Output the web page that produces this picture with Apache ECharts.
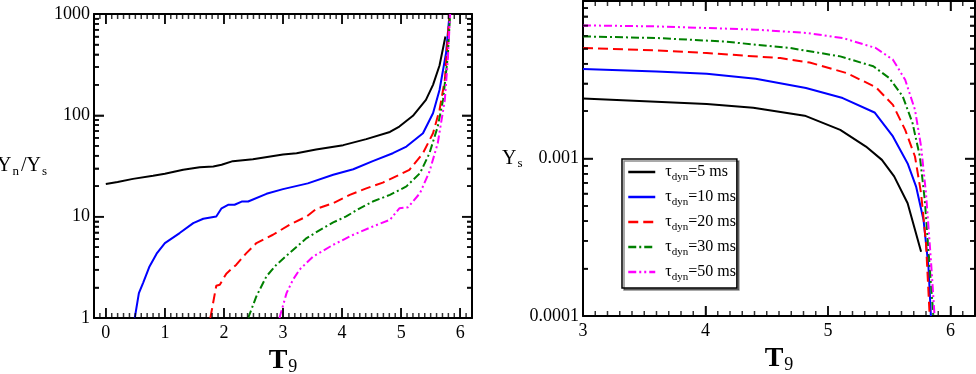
<!DOCTYPE html>
<html>
<head>
<meta charset="utf-8">
<script src="https://cdn.jsdelivr.net/npm/echarts@6/dist/echarts.min.js"></script>
<style>
html, body { margin: 0; padding: 0; background: #fff; }
#chart { width: 976px; height: 374px; }
</style>
</head>
<body>
<div id="chart"></div>
<script>
// tau_dyn values (ms) and their line styles
const tauValues = ['5', '10', '20', '30', '50']
const lineColors = ['#000000', '#0000ff', '#ff0000', '#008000', '#ff00ff']
const lineDashes = ['solid', 'solid', [10, 5], [8, 3, 2, 3], [8, 3, 2, 3, 2, 3]]

// left panel: Yn/Ys against T9
const ratio5 = [[0, 21], [0.2, 22], [0.46, 23.6], [0.8, 25.3], [1.0, 26.5], [1.31, 29], [1.59, 30.8], [1.82, 31.3],
  [1.96, 32.5], [2.15, 35.3], [2.49, 36.9], [3.0, 41], [3.23, 42.3], [3.56, 46], [4.02, 50.8], [4.41, 58.2],
  [4.81, 68.5], [4.97, 77.5], [5.2, 99], [5.42, 142], [5.54, 200], [5.65, 310], [5.75, 600]]
const ratio10 = [[0.49, 1], [0.56, 1.76], [0.63, 2.21], [0.74, 3.23], [0.86, 4.31], [1.0, 5.49], [1.25, 6.89],
  [1.48, 8.64], [1.65, 9.53], [1.87, 10.05], [1.96, 12.1], [2.07, 13.1], [2.18, 13.1], [2.3, 14.1], [2.41, 14.1],
  [2.72, 16.8], [3.0, 18.7], [3.42, 21.3], [3.85, 25.9], [4.19, 29.4], [4.52, 35.3], [4.86, 42.3], [5.09, 49.2],
  [5.37, 66.6], [5.54, 105], [5.65, 178], [5.76, 410], [5.82, 1000]]
const ratio20 = [[1.77, 1], [1.87, 2.08], [1.93, 2.13], [2.04, 2.74], [2.21, 3.36], [2.38, 4.37], [2.55, 5.49],
  [2.83, 6.63], [3.11, 8.32], [3.4, 10.05], [3.56, 11.9], [3.85, 13.6], [4.13, 16.4], [4.41, 19], [4.69, 21.7],
  [4.97, 25.9], [5.14, 29], [5.37, 42.3], [5.54, 66.6], [5.65, 113], [5.74, 224], [5.82, 1000]]
const ratio30 = [[2.41, 1], [2.55, 1.64], [2.72, 2.58], [2.89, 3.36], [3.11, 4.37], [3.4, 6.15], [3.68, 7.71],
  [3.85, 8.77], [4.07, 10.05], [4.3, 12.1], [4.52, 14.1], [4.81, 16.4], [5.09, 19.9], [5.32, 26.9], [5.48, 42.3],
  [5.62, 77.5], [5.71, 142], [5.79, 380], [5.83, 1000]]
const ratio50 = [[2.94, 1], [3.06, 1.76], [3.17, 2.39], [3.28, 3.0], [3.51, 4.05], [3.85, 5.28], [4.19, 6.63],
  [4.52, 8.0], [4.81, 9.3], [4.97, 12.1], [5.12, 12.4], [5.32, 17.1], [5.48, 27.9], [5.62, 53], [5.74, 142],
  [5.79, 352], [5.83, 1000]]

// right panel: Ys against T9
const ys5 = [[3, 2.40e-3], [4.01, 2.22e-3], [4.39, 2.10e-3], [4.81, 1.87e-3], [5.1, 1.52e-3], [5.31, 1.19e-3],
  [5.44, 9.8e-4], [5.54, 7.7e-4], [5.65, 5.2e-4], [5.76, 2.56e-4]]
const ys10 = [[3, 3.70e-3], [3.6, 3.57e-3], [4.01, 3.45e-3], [4.41, 3.21e-3], [4.82, 2.80e-3], [5.12, 2.42e-3],
  [5.38, 1.96e-3], [5.53, 1.38e-3], [5.65, 9.3e-4], [5.72, 6.6e-4], [5.78, 4.07e-4], [5.82, 2.06e-4], [5.84, 1e-4]]
const ys20 = [[3, 5.03e-3], [3.6, 4.86e-3], [4.01, 4.67e-3], [4.61, 4.34e-3], [4.85, 4.07e-3], [5.15, 3.49e-3],
  [5.39, 2.84e-3], [5.53, 2.19e-3], [5.63, 1.52e-3], [5.71, 1.03e-3], [5.76, 6.0e-4], [5.8, 2.9e-4], [5.83, 1e-4]]
const ys30 = [[3, 5.96e-3], [3.6, 5.82e-3], [4.14, 5.54e-3], [4.69, 5.03e-3], [5.1, 4.45e-3], [5.37, 3.85e-3],
  [5.5, 3.24e-3], [5.61, 2.48e-3], [5.69, 1.68e-3], [5.75, 1.03e-3], [5.79, 5.46e-4], [5.83, 2.06e-4], [5.86, 1e-4]]
const ys50 = [[3, 7.0e-3], [3.6, 6.9e-3], [4.41, 6.58e-3], [4.82, 6.27e-3], [5.12, 5.82e-3], [5.39, 5.03e-3],
  [5.53, 4.24e-3], [5.63, 3.16e-3], [5.71, 2.04e-3], [5.76, 1.19e-3], [5.8, 6.0e-4], [5.84, 2.27e-4], [5.87, 1e-4]]

// tick labels
const leftXLabels = [0, 1, 2, 3, 4, 5, 6]
const rightXLabels = [3, 4, 5, 6]

const FONT = 'Liberation Serif'
const seriesNames = tauValues.map(t => 'tau' + t)
const MAJOR = 10, MINOR = 5

function frameLine() {
  return { show: true, onZero: false, lineStyle: { color: '#000', width: 2 } }
}
function tickStyle() {
  return { color: '#000', width: 1.5 }
}

// tick positions: every 0.1 on T9, 1..9 x decade on the log axes
function linTicks(min, max) {
  const out = []
  for (let i = Math.ceil(min * 10 - 1e-6); i <= Math.floor(max * 10 + 1e-6); i++) {
    out.push({ v: i / 10, major: i % 10 === 0 })
  }
  return out
}
function logTicks(min, max) {
  const out = []
  for (let d = Math.round(Math.log10(min)); d <= Math.round(Math.log10(max)); d++) {
    const m = Math.pow(10, d)
    out.push({ v: m, major: true })
    for (let k = 2; k <= 9; k++) if (k * m < max) out.push({ v: +(k * m).toPrecision(3), major: false })
  }
  return out
}

// inward tick marks on all four sides, as small rects placed through the axes
function tickItems(xr, yr, xt, yt) {
  const out = []
  xt.forEach(t => {
    const L = t.major ? MAJOR : MINOR
    out.push({ value: [t.v, yr[0]], symbolSize: [1.5, L], symbolOffset: [0, -L / 2] })
    out.push({ value: [t.v, yr[1]], symbolSize: [1.5, L], symbolOffset: [0, L / 2] })
  })
  yt.forEach(t => {
    const L = t.major ? MAJOR : MINOR
    out.push({ value: [xr[0], t.v], symbolSize: [L, 1.5], symbolOffset: [L / 2, 0] })
    out.push({ value: [xr[1], t.v], symbolSize: [L, 1.5], symbolOffset: [-L / 2, 0] })
  })
  return out
}

function xAxesFor(grid, min, max, labels, name) {
  return ['bottom', 'top'].map((pos, si) => ({
    gridIndex: grid, type: 'value', position: pos, min, max,
    splitLine: { show: false },
    axisLine: frameLine(),
    axisTick: { show: true, inside: true, length: MAJOR, customValues: labels.slice(), lineStyle: tickStyle() },
    axisLabel: si === 0 ? {
      show: true, customValues: labels.slice(), margin: 6,
      fontFamily: FONT, fontSize: 18, color: '#000', formatter: v => String(v)
    } : { show: false },
    name: si === 0 ? name : '',
    nameLocation: 'middle', nameGap: 22,
    nameTextStyle: {
      rich: {
        a: { fontFamily: FONT, fontSize: 28, fontWeight: 'bold', color: '#000', lineHeight: 30 },
        b: { fontFamily: FONT, fontSize: 18, color: '#000', verticalAlign: 'bottom', lineHeight: 14, padding: [0, 0, 0, 1] }
      }
    }
  }))
}

function yAxesFor(grid, min, max, name, nameGap, labelMax) {
  return ['left', 'right'].map((pos, si) => ({
    gridIndex: grid, type: 'log', position: pos, min, max,
    splitLine: { show: false },
    axisLine: frameLine(),
    axisTick: { show: true, inside: true, length: MAJOR, lineStyle: tickStyle() },
    minorTick: { show: true, splitNumber: 9, length: MINOR, lineStyle: tickStyle() },
    axisLabel: si === 0 ? {
      show: true, margin: 4, fontFamily: FONT, fontSize: 18, color: '#000',
      formatter: v => (v > labelMax * 1.01 ? '' : String(+Number(v).toPrecision(6)))
    } : { show: false },
    name: si === 0 ? name : '',
    nameLocation: 'middle', nameRotate: 0, nameGap,
    nameTextStyle: {
      rich: {
        a: { fontFamily: FONT, fontSize: 20, color: '#000', lineHeight: 24 },
        b: { fontFamily: FONT, fontSize: 13, color: '#000', verticalAlign: 'bottom', lineHeight: 12, padding: [0, 2, 0, 1] }
      }
    }
  }))
}

const leftRange = { x: [-0.2, 6.2], y: [1, 1000] }
const rightRange = { x: [3, 6.2], y: [1e-4, 1e-2] }

const xAxes = [
  ...xAxesFor(0, leftRange.x[0], leftRange.x[1], leftXLabels, '{a|T}{b|9}'),
  ...xAxesFor(1, rightRange.x[0], rightRange.x[1], rightXLabels, '{a|T}{b|9}')
]
const yAxes = [
  ...yAxesFor(0, leftRange.y[0], leftRange.y[1], '{a|Y}{b|n}{a|/Y}{b|s}', 40, 1000),
  ...yAxesFor(1, rightRange.y[0], rightRange.y[1], '{a|Y}{b|s}', 58, 0.001)
]

const leftData = [ratio5, ratio10, ratio20, ratio30, ratio50]
const rightData = [ys5, ys10, ys20, ys30, ys50]

function lineSeries(data, i, xIdx, yIdx) {
  return {
    name: seriesNames[i], type: 'line', data,
    xAxisIndex: xIdx, yAxisIndex: yIdx,
    symbol: 'none', smooth: false, clip: true,
    lineStyle: { color: lineColors[i], width: 2, type: lineDashes[i] },
    itemStyle: { color: lineColors[i] },
    emphasis: { disabled: true }
  }
}

function tickSeries(xIdx, yIdx, range) {
  return {
    name: 'ticks' + xIdx, type: 'scatter', xAxisIndex: xIdx, yAxisIndex: yIdx,
    symbol: 'rect', silent: true, clip: false, z: 3,
    itemStyle: { color: '#000' },
    emphasis: { disabled: true },
    data: tickItems(range.x, range.y, linTicks(range.x[0], range.x[1]), logTicks(range.y[0], range.y[1]))
  }
}

const series = [
  ...leftData.map((d, i) => lineSeries(d, i, 0, 0)),
  ...rightData.map((d, i) => lineSeries(d, i, 2, 2)),
  tickSeries(0, 0, leftRange),
  tickSeries(2, 2, rightRange)
]

const chart = echarts.init(document.getElementById('chart'))
chart.setOption({
  animation: false,
  backgroundColor: '#fff',
  grid: [
    { left: 94, top: 14, width: 378, height: 304, outerBoundsMode: 'none' },
    { left: 583, top: 1, width: 392, height: 315, outerBoundsMode: 'none' }
  ],
  xAxis: xAxes,
  yAxis: yAxes,
  legend: {
    data: seriesNames,
    orient: 'vertical',
    left: 622, top: 159,
    padding: [5, 1, 5, 5],
    itemWidth: 27, itemHeight: 14, itemGap: 6,
    backgroundColor: '#fff',
    borderColor: '#000', borderWidth: 1.5,
    shadowColor: 'rgba(0,0,0,0.45)', shadowOffsetX: 2, shadowOffsetY: 2, shadowBlur: 0,
    selectedMode: false,
    itemStyle: { opacity: 0 },
    lineStyle: { width: 2.5 },
    formatter: name => {
      const t = tauValues[seriesNames.indexOf(name)]
      return '{t|τ}{s|dyn}{t|=' + t + ' ms}'
    },
    textStyle: {
      padding: [0, 0, 0, 5],
      rich: {
        t: { fontFamily: FONT, fontSize: 16, color: '#000', lineHeight: 22 },
        s: { fontFamily: FONT, fontSize: 11, color: '#000', verticalAlign: 'bottom', lineHeight: 11 }
      }
    }
  },
  series
})
</script>
</body>
</html>
